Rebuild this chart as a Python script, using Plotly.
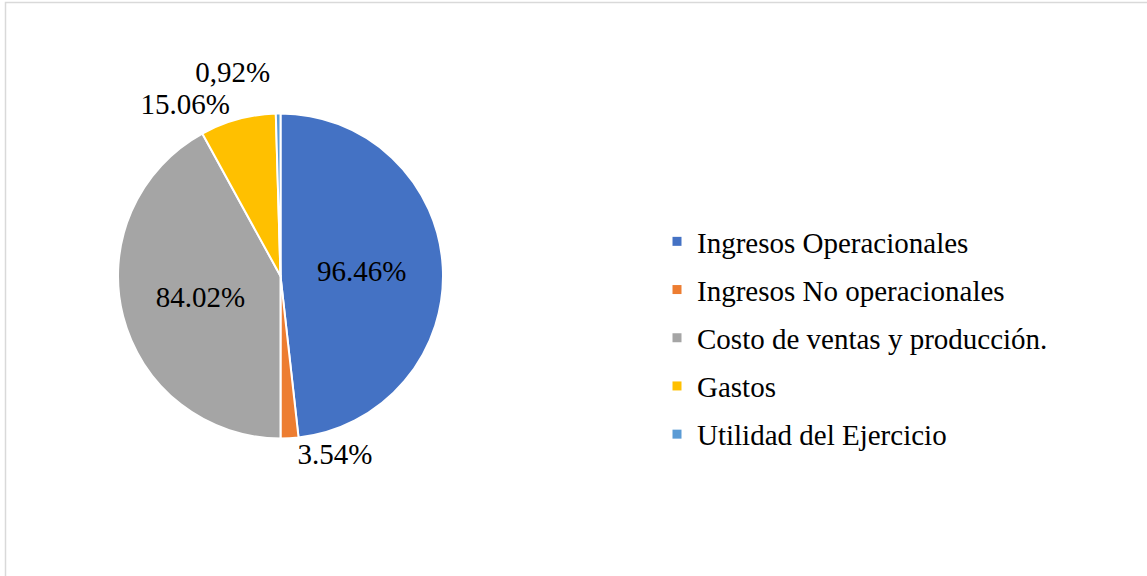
import plotly.graph_objects as go

categories = ["Ingresos Operacionales", "Ingresos No operacionales",
              "Costo de ventas y producción.", "Gastos", "Utilidad del Ejercicio"]
values = [96.46, 3.54, 84.02, 15.06, 0.92]
label_text = ["96.46%", "3.54%", "84.02%", "15.06%", "0,92%"]
colors = ["#4472C4", "#ED7D31", "#A5A5A5", "#FFC000", "#5B9BD5"]

W, H = 1147, 576
FONT = "Liberation Serif, Times New Roman, serif"

fig = go.Figure()
fig.add_trace(go.Pie(
    labels=categories,
    values=values,
    text=label_text,
    texttemplate="%{text}",
    textposition=["inside", "outside", "inside", "outside", "outside"],
    insidetextorientation="horizontal",
    sort=False,
    direction="clockwise",
    rotation=0,
    marker=dict(colors=colors, line=dict(color="white", width=2)),
    textfont=dict(family=FONT, size=29, color="black"),
    domain=dict(x=[118 / W, 443 / W], y=[1 - 439 / H, 1 - 113 / H]),
    hoverinfo="label+text",
    showlegend=False,
))

# legend entries (one per category, spaced like the reference)
for name, col in zip(categories, colors):
    fig.add_trace(go.Scatter(
        x=[None], y=[None], mode="markers", name=name,
        legendgroup=name,
        marker=dict(symbol="square", size=9, color=col),
        showlegend=True,
        hoverinfo="skip",
    ))

fig.update_layout(
    width=W, height=H,
    margin=dict(l=0, r=0, t=0, b=0),
    paper_bgcolor="white",
    plot_bgcolor="white",
    xaxis=dict(visible=False),
    yaxis=dict(visible=False),
    legend=dict(
        x=657 / W, y=1 - 338 / H, xanchor="left", yanchor="middle",
        font=dict(family=FONT, size=29, color="black"),
        bgcolor="rgba(0,0,0,0)",
        tracegroupgap=7.5,
        itemwidth=30,
    ),
    shapes=[dict(type="rect", xref="paper", yref="paper",
                 x0=5.5 / W, x1=1.2, y0=-0.2, y1=1 - 2.5 / H,
                 line=dict(color="#D9D9D9", width=1.5))],
)

post = """
document.body.style.margin = '0';
document.querySelectorAll('path.textline').forEach(function(e){ e.remove(); });
"""
fig.write_html("out.html", post_script=post, config={"displayModeBar": False})
